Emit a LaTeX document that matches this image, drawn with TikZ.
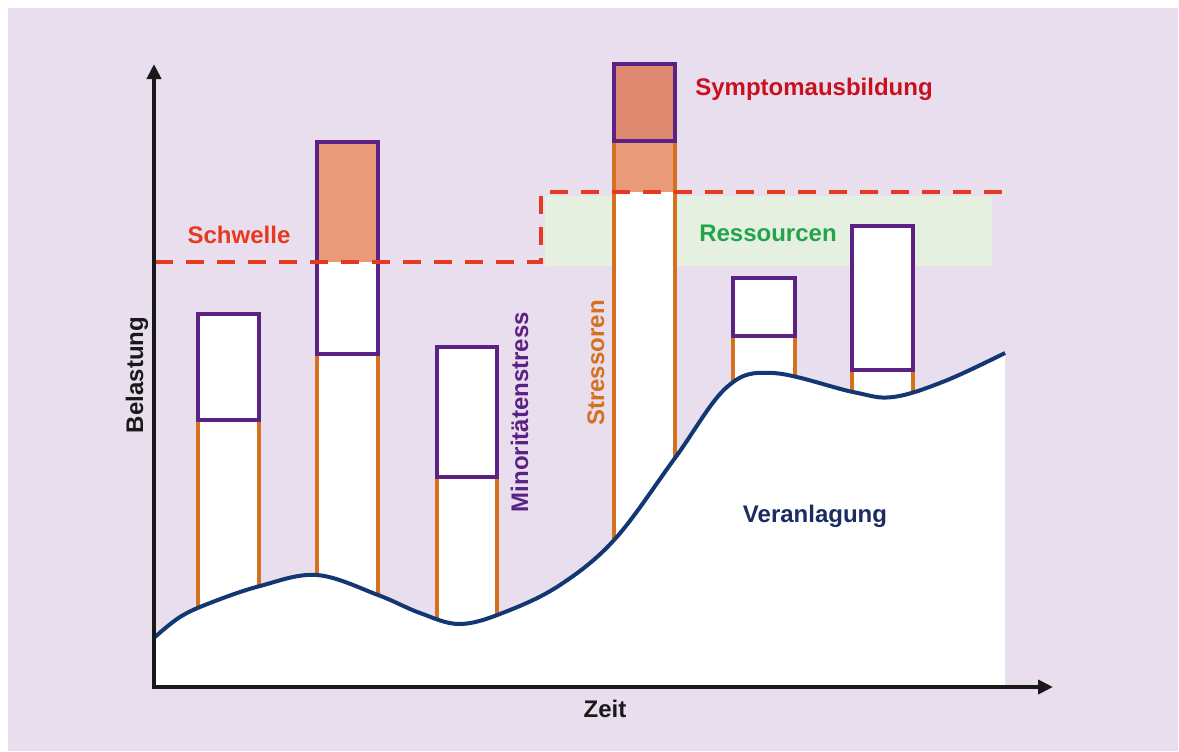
\documentclass[tikz,border=0pt]{standalone}
\usepackage{fontspec}
\setmainfont{Liberation Sans}
\usepackage{tikz}
\usetikzlibrary{arrows.meta}

\definecolor{hintergrund}{RGB}{232,222,238}
\definecolor{balkenlila}{RGB}{91,34,131}
\definecolor{stressorange}{RGB}{212,112,30}
\definecolor{lachs}{RGB}{233,154,120}
\definecolor{lachsdunkel}{RGB}{223,136,112}
\definecolor{schwellerot}{RGB}{230,58,30}
\definecolor{symptomrot}{RGB}{200,16,30}
\definecolor{ressgruen}{RGB}{229,240,224}
\definecolor{ressschrift}{RGB}{34,165,74}
\definecolor{kurvenblau}{RGB}{18,55,115}
\definecolor{anlageblau}{RGB}{27,43,100}

\begin{document}
\begin{tikzpicture}[x=0.5pt, y=-0.5pt,
    achse/.style={line width=2pt, black!90, -{Triangle[length=7.5pt,width=7pt]}},
    stress/.style={line width=1.6pt, stressorange},
    minorbox/.style={line width=2pt, draw=balkenlila},
    schrift/.style={inner sep=0pt, anchor=base, font=\fontsize{12}{14}\selectfont\bfseries}]
        \useasboundingbox (0,0) rectangle (1179,751);
        % Background
        \fill[white] (0,0) rectangle (1179,751);
        \fill[hintergrund] (8,8) rectangle (1178,751);

        % Resources band
        \fill[ressgruen] (545,196) rectangle (992,266);

        % Stressors: white bars with orange sides down to the axis
        \foreach \xl/\xr/\bot in {198/259/420, 317/378/354, 437/497/477, 614/675/141, 733/795/336, 852/913/370} {
            \fill[white] (\xl,\bot) rectangle (\xr,687);
            \draw[stress] (\xl,\bot) -- (\xl,687);
            \draw[stress] (\xr,\bot) -- (\xr,687);
        }

        % Load above the threshold
        \fill[white] (317,142) rectangle (378,354);
        \fill[lachs] (317,142) rectangle (378,262);
        \fill[lachs] (614,141) rectangle (675,192);
        \draw[stress] (614,141) -- (614,192);
        \draw[stress] (675,141) -- (675,192);

        % Minority stress boxes
        \draw[minorbox, fill=white] (198,314) rectangle (259,420);
        \draw[minorbox] (317,142) rectangle (378,354);
        \draw[minorbox, fill=white] (437,347) rectangle (497,477);
        \draw[minorbox, fill=lachsdunkel] (614,64) rectangle (675,141);
        \draw[minorbox, fill=white] (733,278) rectangle (795,336);
        \draw[minorbox, fill=white] (852,226) rectangle (913,370);

        % Disposition
        \fill[white] (155,687) -- plot[smooth, tension=0.6] coordinates {(155,637) (180,617) (210,603) (260,586) (317,575) (378,595) (420,613) (460,624) (505,612) (560,585) (615,539) (675,458) (727,387) (773,373) (853,392) (893,397) (945,381) (1005,353)} -- (1005,687) -- cycle;
        \draw[line width=2pt, kurvenblau] plot[smooth, tension=0.6] coordinates {(155,637) (180,617) (210,603) (260,586) (317,575) (378,595) (420,613) (460,624) (505,612) (560,585) (615,539) (675,458) (727,387) (773,373) (853,392) (893,397) (945,381) (1005,353)};

        % Threshold
        \draw[line width=2pt, schwellerot, dash pattern=on 9pt off 6.5pt] (155,262) -- (541,262) -- (541,192) -- (1003,192);

        % Axes
        \coordinate (ursprung) at (154,687);
        \coordinate (ylinks) at (154,64);
        \coordinate (xrechts) at (1053,687);
        \draw[achse] ([yshift=-1pt]ursprung) -- (ylinks);
        \draw[achse] (ursprung) -- (xrechts);

        % Labels
        \node[schrift, text=schwellerot] (schwelle) at (239,243) {Schwelle};
        \node[schrift, text=symptomrot] (symptom) at (814,95) {Symptomausbildung};
        \node[schrift, text=ressschrift] (ressourcen) at (768,241) {Ressourcen};
        \node[schrift, text=anlageblau] (veranlagung) at (815,522) {Veranlagung};
        \node[schrift, text=black!90] (zeit) at (605,717) {Zeit};
        \node[schrift, text=black!90, rotate=90] (belastung) at (143,375) {Belastung};
        \node[schrift, text=balkenlila, rotate=90] (minoritaet) at (528,412) {Minoritätenstress};
        \node[schrift, text=stressorange, rotate=90] (stressoren) at (604,363) {Stressoren};
    \end{tikzpicture}
\end{document}
